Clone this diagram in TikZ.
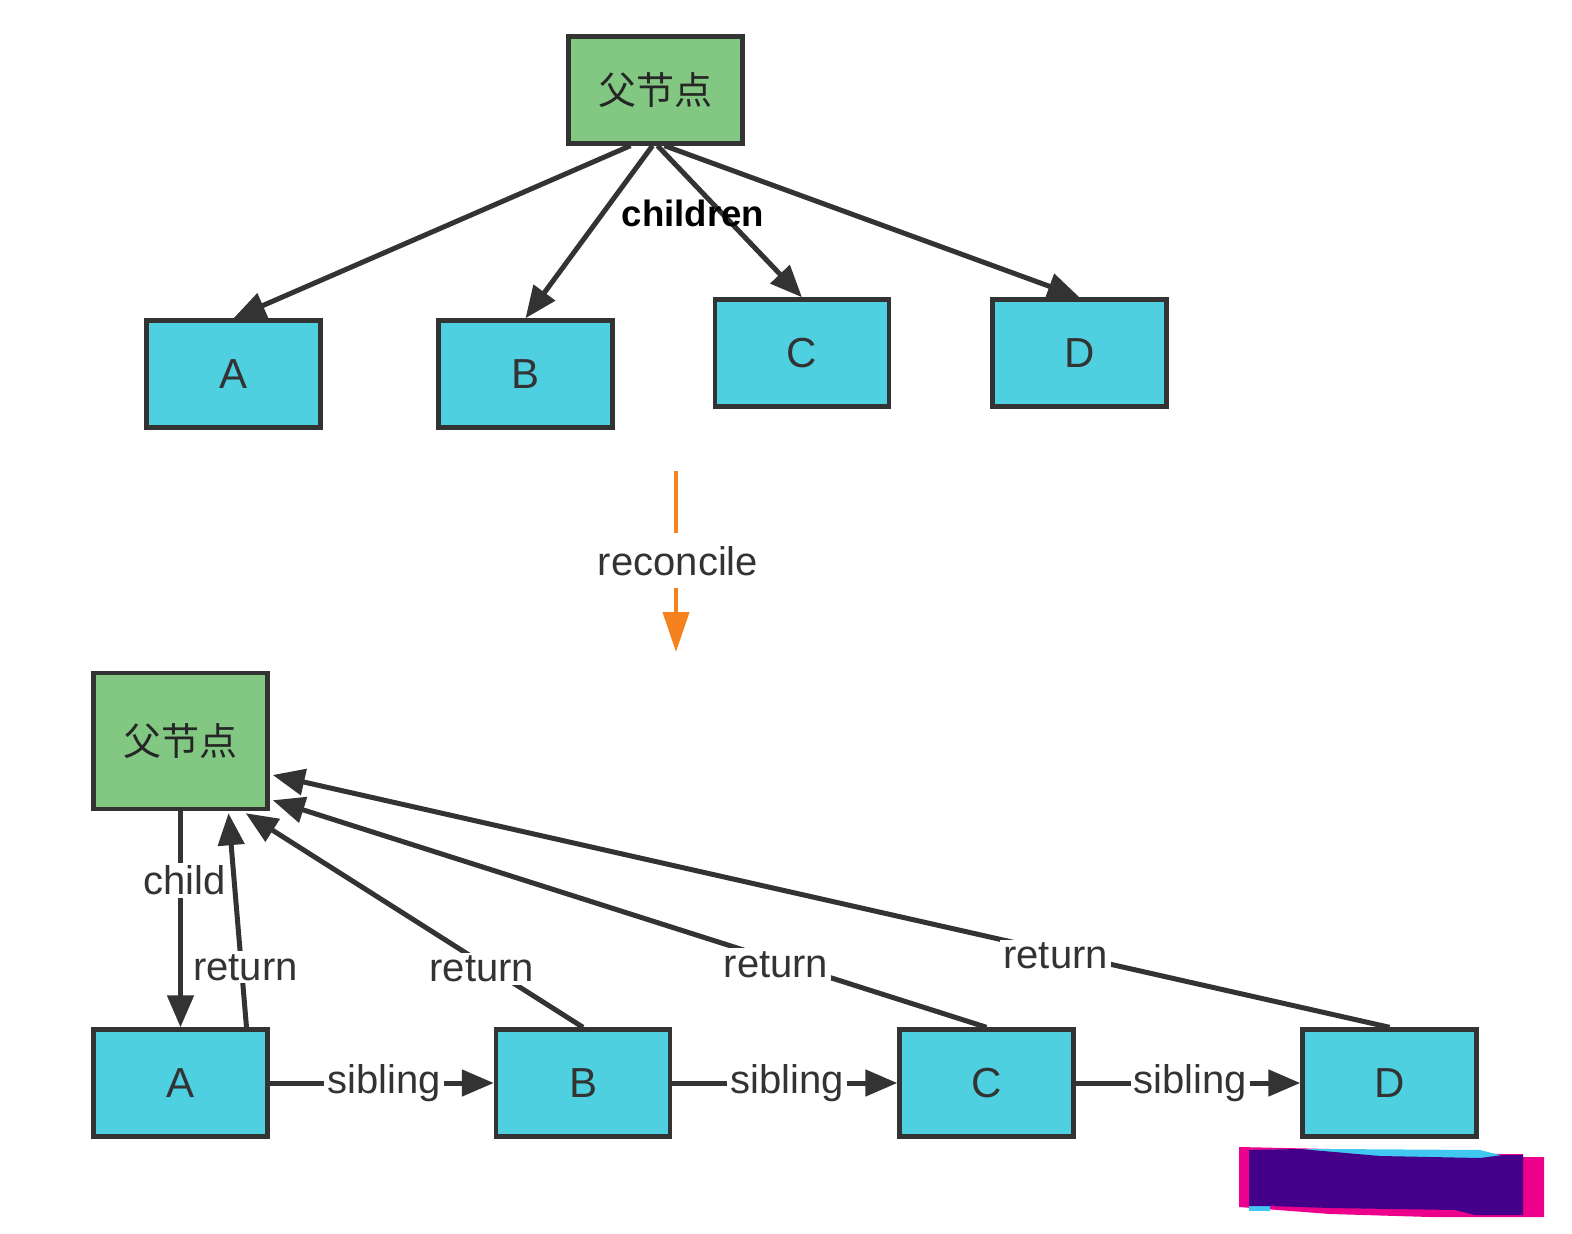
\documentclass[tikz,border=0pt]{standalone}
\usepackage{fontspec}
\setmainfont{Liberation Sans}
\newfontfamily\cjk{Noto Sans CJK SC}
\usetikzlibrary{arrows.meta,calc}
\definecolor{gbox}{HTML}{82C882}
\definecolor{cbox}{HTML}{4FD0E0}
\definecolor{ln}{HTML}{333333}
\definecolor{org}{HTML}{F5821F}
\definecolor{rpink}{HTML}{EC008C}
\definecolor{rcyan}{HTML}{40C8F0}
\definecolor{rpurp}{HTML}{45008A}
\tikzset{
  box/.style={draw=ln, line width=2.2pt, minimum width=87pt, minimum height=53.5pt, inner sep=0pt, text=ln, font=\fontsize{21}{25}\selectfont},
  cbx/.style={box, fill=cbox},
  gbx/.style={box, fill=gbox, text=black!85, font=\cjk\fontsize{19}{22}\selectfont},
  conn/.style={draw=ln, line width=2.5pt, -{Triangle[length=16pt,width=13pt]}},
  lab/.style={fill=white, inner sep=1.5pt, text=ln, font=\fontsize{20}{24}\selectfont},
}
\begin{document}
\begin{tikzpicture}[x=0.5pt,y=-0.5pt]
\useasboundingbox (0,0) rectangle (1572,1234);
% top tree
\node[gbx] (p1) at (655.5,90) {父节点};
\node[cbx] (a1) at (233.5,374) {A};
\node[cbx] (b1) at (525.5,374) {B};
\node[cbx] (c1) at (802,353) {C};
\node[cbx] (d1) at (1079.5,353) {D};
\draw[conn] ($(p1.south)+(-25,0)$) -- (a1.north);
\draw[conn] ($(p1.south)+(-3,0)$) -- (b1.north);
\draw[conn] ($(p1.south)+(2,0)$) -- (c1.north);
\draw[conn] ($(p1.south)+(9,0)$) -- (d1.north);
\node[font=\bfseries\fontsize{18.3}{22}\selectfont, text=black, inner sep=0pt] (ch) at (693,213) {children};
% reconcile
\node[text=ln, font=\fontsize{20}{24}\selectfont, inner sep=0pt] (rc) at (678,561) {reconcile};
\coordinate (r0) at (676,471);
\coordinate (r1) at (676,533);
\coordinate (r2) at (676,588);
\coordinate (r3) at (676,652);
\draw[org, line width=2pt] (r0) -- (r1);
\draw[org, line width=2pt, -{Triangle[length=20pt,width=13pt]}] (r2) -- (r3);
% bottom tree
\node[gbx, minimum height=68pt] (p2) at (180.5,741) {父节点};
\node[cbx] (a2) at (180.5,1083) {A};
\node[cbx] (b2) at (583,1083) {B};
\node[cbx] (c2) at (986.5,1083) {C};
\node[cbx] (d2) at (1389.5,1083) {D};
\draw[conn] (p2.south) -- node[lab, pos=0.32, xshift=2pt] {child} (a2.north);
\draw[conn] ($(a2.north)+(66,0)$) -- node[lab, pos=0.28, xshift=2pt] {return} ($(p2.south)+(48,2)$);
\draw[conn] (b2.north) -- node[lab, pos=0.30, yshift=-3pt] {return} ($(p2.south east)+(-24,2)$);
\draw[conn] (c2.north) -- node[lab, pos=0.295, yshift=-2pt] {return} ($(p2.south east)+(3,-11)$);
\draw[conn] (d2.north) -- node[lab, pos=0.299, yshift=-2pt] {return} ($(p2.east)+(3,34)$);
\draw[conn] (a2.east) -- node[lab, pos=0.51] {sibling} (b2.west);
\draw[conn] (b2.east) -- node[lab, pos=0.51] {sibling} (c2.west);
\draw[conn] (c2.east) -- node[lab, pos=0.51] {sibling} (d2.west);
% redaction mark
\fill[rpink] (1239,1147) -- (1330,1149) -- (1500,1154) -- (1523,1154) -- (1523,1157) -- (1544,1157) -- (1544,1217) -- (1430,1217) -- (1330,1214) -- (1239,1207) -- cycle;
\fill[rcyan] (1249,1150) -- (1330,1149) -- (1480,1150) -- (1500,1155) -- (1500,1160) -- (1249,1160) -- cycle;
\fill[rcyan] (1249,1205) rectangle (1270,1211);
\fill[rpurp] (1249,1150) -- (1300,1149) -- (1380,1156) -- (1480,1158) -- (1503,1155) -- (1523,1155) -- (1523,1215) -- (1475,1215) -- (1455,1210) -- (1330,1208) -- (1270,1206) -- (1249,1206) -- cycle;
\end{tikzpicture}
\end{document}
